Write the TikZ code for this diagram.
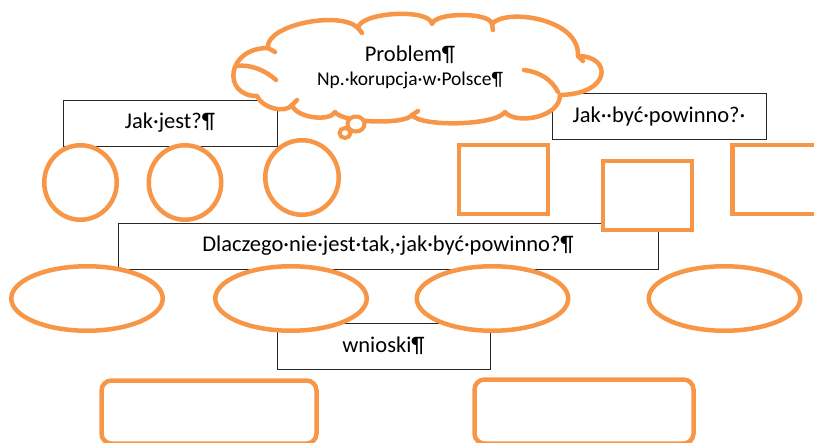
\documentclass[tikz,border=0pt]{standalone}
\usepackage{fontspec}
\setmainfont{Carlito}
\usetikzlibrary{shapes.geometric}
\definecolor{orng}{HTML}{F79646}
\begin{document}
\begin{tikzpicture}[x=1pt,y=-1pt,
  tbox/.style={draw=black!85,line width=0.9pt,fill=white,inner sep=0pt,font=\fontsize{22.5}{26}\selectfont},
  oline/.style={draw=orng,line width=4.5pt,line cap=round,line join=round},
  oshape/.style={draw=orng,line width=4.5pt,fill=white,inner sep=0pt},
  oell/.style={oshape,ellipse},
  orect/.style={oshape,rectangle},
  oround/.style={oshape,rectangle,rounded corners=10pt}]
\path[use as bounding box] (0,0) rectangle (814,442);
\clip (0,0) rectangle (814,442);
% text boxes
\node[tbox,minimum width=214pt,minimum height=46pt] (jak) at (170,123) {Jak·jest?¶};
\node[tbox,minimum width=214pt,minimum height=46pt] (pow) at (659,116) {Jak··być·powinno?·};
\node[tbox,minimum width=540pt,minimum height=46pt] (dla) at (388,246) {Dlaczego·nie·jest·tak,·jak·być·powinno?¶};
\node[tbox,minimum width=213pt,minimum height=46pt] (wni) at (383.5,346) {wnioski¶};
% cloud
\path[oline,fill=white] (257,96)
  .. controls (222,96) and (226,48) .. (268,48)
  .. controls (265,25) and (340,10) .. (358,28)
  .. controls (360,12) and (430,8) .. (432,24)
  .. controls (435,12) and (490,12) .. (492,24)
  .. controls (505,8) and (580,18) .. (578,56)
  .. controls (612,56) and (612,94) .. (560,95)
  .. controls (560,118) and (515,125) .. (505,112)
  .. controls (495,126) and (420,127) .. (412,115)
  .. controls (405,125) and (342,123) .. (335,112)
  .. controls (330,122) and (296,118) .. (292,105)
  .. controls (285,114) and (262,108) .. (257,96) -- cycle;
\draw[oline] (236,66) .. controls (250,64) and (265,70) .. (276,80);
\draw[oline] (524,70) .. controls (540,72) and (552,80) .. (558,92);
\draw[oline] (268,48) -- (275,52);
\draw[oline] (358,28) -- (362,33);
\draw[oline] (492,24) -- (493,30);
\draw[oline] (578,56) -- (583,61);
\draw[oline] (412,115) -- (418,111);
\draw[oline] (292,105) -- (297,100);
\node[inner sep=0pt,font=\fontsize{22.5}{26}\selectfont] (prob) at (410,55) {Problem¶};
\node[inner sep=0pt,font=\fontsize{19.5}{23}\selectfont] (npk) at (410,80) {Np.·korupcja·w·Polsce¶};
\node[oell,line width=4pt,minimum width=17pt,minimum height=15pt] (b1) at (356,124) {};
\node[oell,line width=4pt,minimum width=11pt,minimum height=10pt] (b2) at (345,133) {};
% circles
\node[oell,minimum width=72.5pt,minimum height=74.5pt] (c1) at (80.5,182.5) {};
\node[oell,minimum width=72.5pt,minimum height=74.5pt] (c2) at (185,182.5) {};
\node[oell,minimum width=73.5pt,minimum height=74.5pt] (c3) at (302,177.5) {};
% squares
\node[orect,minimum width=89pt,minimum height=69pt] (s1) at (503.5,179.5) {};
\node[orect,minimum width=89pt,minimum height=69pt] (s2) at (647.5,195.5) {};
\node[orect,minimum width=89pt,minimum height=69pt] (s3) at (777,179.5) {};
% ellipses
\node[oell,minimum width=151.5pt,minimum height=64.5pt] (e1) at (87,298.5) {};
\node[oell,minimum width=151.5pt,minimum height=64.5pt] (e2) at (291,298.5) {};
\node[oell,minimum width=151.5pt,minimum height=64.5pt] (e3) at (492.5,298.5) {};
\node[oell,minimum width=151.5pt,minimum height=64.5pt] (e4) at (724.5,298.5) {};
% rounded boxes
\node[oround,minimum width=215pt,minimum height=63pt] (r1) at (209,412) {};
\node[oround,minimum width=219pt,minimum height=64pt] (r2) at (584,411.5) {};
\end{tikzpicture}
\end{document}
